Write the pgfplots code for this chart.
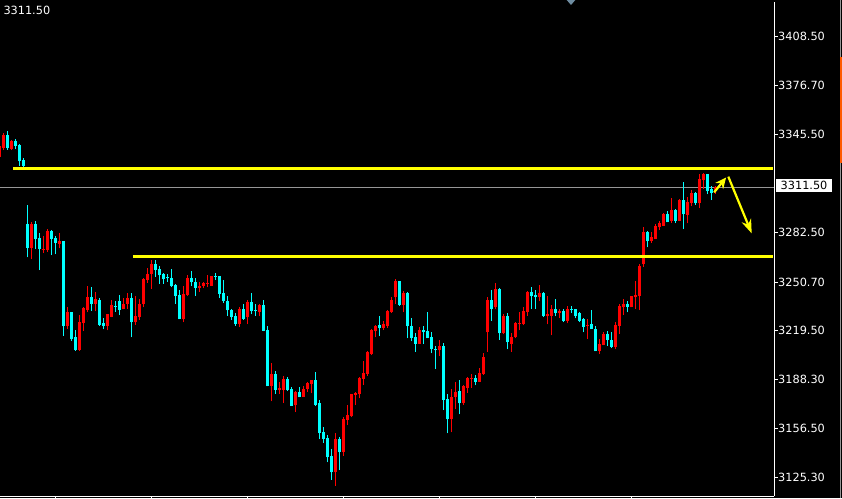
\documentclass[border=0pt]{standalone}
\usepackage{fontspec}
\setmainfont{DejaVu Sans}
\usepackage{pgfplots}
\usepackage{pgfplotstable}
\pgfplotsset{compat=1.18}
\usetikzlibrary{arrows.meta}
\definecolor{upc}{RGB}{255,0,0}
\definecolor{dnc}{RGB}{0,255,255}
\definecolor{lvl}{RGB}{255,255,0}
\definecolor{bid}{RGB}{150,150,150}
\definecolor{shiftc}{RGB}{110,140,160}

% bullish candles (red): index, open, high, low, close
\pgfplotstableread{
x o h l c
-1 3330.6 3338.8 3329.3 3337.7
0 3336.6 3346.0 3335.3 3344.9
2 3336.0 3342.0 3335.3 3340.9
7 3272.4 3288.9 3265.4 3287.8
10 3271.8 3280.0 3269.2 3272.2
11 3271.4 3284.6 3270.0 3283.2
14 3275.1 3281.9 3272.3 3277.2
16 3222.2 3234.4 3220.5 3231.2
19 3207.2 3229.5 3206.5 3224.8
20 3224.1 3234.8 3219.4 3233.9
21 3232.9 3248.4 3231.2 3240.8
23 3236.9 3244.0 3231.8 3239.5
26 3222.6 3230.1 3219.6 3230.1
27 3228.4 3238.9 3228.0 3235.9
30 3233.1 3240.2 3233.1 3236.9
31 3236.5 3243.4 3233.3 3240.2
33 3224.8 3241.5 3223.1 3228.6
34 3228.0 3239.7 3226.5 3236.9
35 3236.5 3253.4 3234.4 3252.4
36 3251.9 3259.9 3250.1 3256.1
37 3255.7 3265.1 3246.5 3262.1
45 3226.8 3248.0 3224.8 3242.7
46 3242.3 3255.3 3241.6 3253.2
49 3246.7 3250.4 3244.5 3248.4
50 3248.0 3250.9 3246.6 3250.0
51 3249.4 3255.0 3247.3 3250.0
52 3248.4 3254.3 3248.4 3254.3
59 3223.5 3234.4 3221.7 3233.7
61 3228.0 3238.9 3223.7 3237.6
64 3231.2 3236.5 3228.6 3235.7
67 3184.1 3198.6 3174.1 3191.4
69 3181.3 3186.3 3178.7 3182.6
70 3181.3 3190.7 3173.0 3188.5
73 3171.5 3180.9 3167.2 3180.0
75 3177.0 3183.7 3177.0 3182.1
76 3182.0 3186.8 3180.0 3185.9
77 3185.3 3187.9 3179.3 3187.9
83 3128.5 3153.5 3120.0 3149.9
85 3141.3 3163.8 3139.2 3162.7
86 3162.1 3171.7 3158.9 3165.3
87 3164.4 3178.7 3163.8 3178.7
88 3178.1 3180.3 3171.7 3179.4
89 3178.7 3190.0 3176.1 3189.2
90 3188.5 3199.9 3184.5 3192.2
91 3191.6 3206.6 3190.3 3205.5
92 3204.8 3220.5 3203.8 3219.8
93 3219.1 3223.1 3215.1 3222.2
95 3221.1 3225.9 3219.8 3223.7
96 3222.6 3232.6 3221.4 3231.8
97 3231.2 3240.8 3230.7 3239.3
98 3240.8 3252.4 3236.5 3251.1
100 3236.1 3244.7 3231.2 3243.4
104 3210.9 3222.0 3210.9 3219.6
109 3206.8 3213.2 3203.1 3209.4
112 3162.5 3182.2 3154.2 3177.0
113 3177.0 3186.4 3168.9 3180.0
115 3172.8 3184.3 3172.1 3183.7
116 3183.0 3190.0 3179.8 3189.3
117 3188.9 3191.9 3183.0 3189.3
119 3186.8 3195.4 3186.8 3192.2
120 3191.6 3204.9 3191.0 3202.9
121 3218.4 3240.8 3206.0 3238.9
123 3234.4 3249.8 3233.1 3245.9
125 3217.7 3229.9 3217.1 3228.6
127 3210.9 3217.8 3206.0 3215.2
128 3215.1 3224.8 3214.5 3224.1
129 3223.5 3231.2 3219.6 3224.1
130 3223.5 3234.4 3222.9 3231.8
131 3231.2 3244.7 3229.2 3244.0
134 3240.8 3248.5 3238.2 3243.4
136 3228.6 3241.5 3223.5 3229.9
137 3229.2 3235.7 3216.4 3233.7
139 3230.6 3233.7 3227.3 3231.8
141 3225.4 3235.0 3224.1 3233.1
146 3222.6 3226.8 3214.1 3223.0
149 3206.2 3214.1 3204.4 3210.9
150 3210.2 3218.4 3210.2 3217.3
153 3209.2 3225.2 3207.6 3223.1
154 3222.6 3236.5 3217.2 3235.5
155 3234.5 3239.7 3229.6 3236.5
157 3234.5 3241.9 3234.4 3241.5
158 3240.8 3251.1 3233.3 3242.6
159 3241.9 3262.2 3232.6 3261.1
160 3262.2 3285.7 3260.5 3282.5
162 3276.7 3282.5 3275.6 3279.3
163 3278.2 3287.7 3278.2 3286.4
164 3285.7 3289.6 3284.0 3288.3
165 3286.9 3294.7 3286.9 3294.1
167 3290.1 3304.3 3288.5 3296.6
169 3290.1 3303.7 3289.6 3303.2
171 3293.7 3305.0 3288.3 3301.8
172 3301.1 3309.5 3299.2 3307.5
174 3301.1 3319.7 3297.9 3316.5
175 3315.9 3320.4 3310.1 3319.7
178 3309.0 3312.6 3307.3 3311.5
}\upT

% bearish candles (cyan): index, open, high, low, close
\pgfplotstableread{
x o h l c
1 3344.9 3347.3 3335.6 3336.4
3 3340.9 3342.7 3336.0 3338.2
4 3338.8 3339.5 3325.3 3328.1
5 3328.7 3330.0 3324.4 3325.1
6 3287.8 3299.8 3266.5 3272.4
8 3287.8 3289.6 3271.8 3278.2
9 3278.7 3281.9 3258.3 3271.8
12 3283.2 3284.2 3267.9 3278.2
13 3278.7 3280.0 3268.5 3275.6
15 3277.0 3277.0 3216.2 3222.2
17 3231.2 3231.2 3212.8 3213.9
18 3215.1 3219.6 3206.5 3207.2
22 3240.8 3247.7 3232.3 3236.9
24 3239.1 3240.2 3222.6 3223.3
25 3224.3 3227.3 3220.3 3222.2
28 3235.2 3238.2 3231.6 3234.8
29 3238.2 3242.1 3229.5 3232.9
32 3240.2 3243.4 3215.1 3224.8
38 3262.1 3264.7 3254.1 3258.3
39 3259.3 3261.1 3249.5 3255.0
40 3255.7 3256.8 3249.6 3252.4
41 3254.1 3256.1 3250.9 3253.0
42 3253.2 3258.9 3247.3 3248.0
43 3249.0 3249.5 3236.9 3241.6
44 3242.3 3245.8 3226.8 3226.8
47 3253.0 3257.5 3248.0 3250.4
48 3250.4 3253.0 3241.9 3246.7
53 3254.5 3256.8 3252.2 3254.1
54 3254.3 3254.3 3240.4 3243.2
55 3243.7 3251.7 3237.1 3238.4
56 3238.2 3241.5 3229.1 3232.5
57 3232.5 3233.7 3226.5 3228.0
58 3228.6 3230.6 3222.6 3223.5
60 3233.7 3236.9 3226.5 3227.0
62 3237.6 3243.4 3229.9 3232.0
63 3232.5 3236.3 3229.1 3231.8
65 3235.7 3238.9 3219.0 3219.4
66 3220.1 3222.2 3183.7 3183.7
68 3191.4 3193.9 3178.7 3181.3
71 3188.5 3190.0 3180.7 3181.3
72 3182.0 3183.3 3171.0 3171.0
74 3180.0 3183.3 3176.6 3176.6
78 3187.9 3192.8 3171.0 3172.1
79 3172.8 3175.2 3149.9 3153.7
80 3154.2 3157.4 3147.7 3149.9
81 3150.3 3152.5 3134.9 3138.1
82 3138.8 3143.5 3123.8 3128.5
84 3149.9 3151.4 3130.0 3141.3
94 3222.9 3229.2 3215.9 3220.9
99 3251.1 3251.1 3235.4 3236.1
101 3243.4 3244.4 3214.5 3222.2
102 3222.2 3227.3 3212.6 3214.5
103 3215.2 3217.7 3206.0 3210.9
105 3219.6 3222.2 3210.9 3218.4
106 3219.0 3231.2 3214.5 3214.5
107 3215.1 3218.4 3204.9 3207.4
108 3207.4 3209.8 3195.2 3206.8
110 3209.4 3211.3 3168.5 3175.2
111 3175.8 3179.1 3153.5 3162.5
114 3180.6 3187.7 3165.7 3172.8
118 3189.3 3191.2 3184.3 3186.8
122 3238.9 3245.3 3226.0 3233.7
124 3245.9 3246.6 3213.8 3217.7
126 3228.6 3230.6 3207.4 3211.9
132 3244.0 3247.2 3233.7 3241.5
133 3242.1 3245.3 3233.7 3240.8
135 3243.4 3244.0 3228.0 3228.6
138 3233.7 3239.5 3228.6 3230.6
140 3231.8 3233.1 3224.8 3225.4
142 3233.1 3235.2 3230.8 3232.5
143 3233.1 3233.7 3227.3 3229.2
144 3230.6 3231.2 3224.8 3226.0
145 3226.8 3227.5 3218.4 3221.7
147 3223.5 3232.6 3220.5 3220.5
148 3220.7 3222.2 3206.2 3206.2
151 3217.3 3219.4 3209.8 3213.5
152 3213.5 3218.8 3208.3 3209.2
156 3236.5 3238.2 3231.2 3234.8
161 3282.5 3283.6 3272.9 3276.7
166 3294.1 3296.0 3288.9 3288.9
168 3296.6 3297.5 3288.5 3290.1
170 3303.2 3314.6 3284.6 3294.1
173 3307.5 3308.6 3300.0 3301.1
176 3319.7 3319.7 3307.1 3308.8
177 3310.1 3312.0 3303.2 3307.5
}\downT

\begin{document}
\begin{tikzpicture}[x=1pt,y=1pt]
\fill[black] (0,0) rectangle (842,498);
\path[use as bounding box] (0,0) rectangle (842,498);
\begin{axis}[
  at={(0,1)}, anchor=south west,
  scale only axis, width=774pt, height=494pt,
  xmin=-0.825, xmax=192.675, ymin=3113.1, ymax=3430.1,
  axis x line*=bottom, axis y line*=right,
  axis line style={white, line width=1pt},
  tick style={white, line width=1pt},
  tick align=outside, major tick length=4pt,
  xtick={13,37,61,85,109,133,157}, xticklabels={},
  ytick={3125.3,3156.5,3188.3,3219.5,3250.7,3282.5,3345.5,3376.7,3408.5},
  yticklabel style={text=white, font=\fontsize{11.3}{13}\selectfont, anchor=west, inner sep=0pt,
    /pgf/number format/fixed, /pgf/number format/fixed zerofill,
    /pgf/number format/precision=2, /pgf/number format/1000 sep={},
    /pgf/number format/assume math mode=true},
  clip=true,
]
% bid line
\addplot[bid, line width=1pt, forget plot] coordinates {(-0.825,3311.5) (192.675,3311.5)};
% wicks
\addplot[forget plot, draw=none, mark=none, error bars/.cd, y dir=plus, y explicit, error mark=none,
  error bar style={draw=upc, solid, line width=1pt}]
  table[x=x, y=l, y error plus expr=\thisrow{h}-\thisrow{l}] {\upT};
\addplot[forget plot, draw=none, mark=none, error bars/.cd, y dir=plus, y explicit, error mark=none,
  error bar style={draw=dnc, solid, line width=1pt}]
  table[x=x, y=l, y error plus expr=\thisrow{h}-\thisrow{l}] {\downT};
% bodies
\addplot[forget plot, draw=none, mark=none, error bars/.cd, y dir=plus, y explicit, error mark=none,
  error bar style={draw=upc, solid, line width=3.2pt}]
  table[x=x, y=o, y error plus expr=\thisrow{c}-\thisrow{o}] {\upT};
\addplot[forget plot, draw=none, mark=none, error bars/.cd, y dir=plus, y explicit, error mark=none,
  error bar style={draw=dnc, solid, line width=3.2pt}]
  table[x=x, y=c, y error plus expr=\thisrow{o}-\thisrow{c}] {\downT};
% horizontal levels
\addplot[lvl, line width=3.5pt, forget plot] coordinates {(2.5,3323.4) (192.4,3323.4)};
\addplot[lvl, line width=3.5pt, forget plot] coordinates {(32.4,3267.2) (192.4,3267.2)};
% arrows
\addplot[lvl, line width=2.2pt, forget plot, -{Stealth[length=11pt, width=10pt]}] coordinates {(177.7,3308.2) (180.7,3317.8)};
\addplot[lvl, line width=2.2pt, forget plot, -{Stealth[length=14pt, width=10pt]}] coordinates {(181.25,3318.3) (187.1,3281.9)};
\end{axis}
% current price box
\fill[white] (776,306.3) rectangle (832,318.7);
\node[anchor=base west, inner sep=0pt, font=\fontsize{11.3}{13}\selectfont, text=black] at (780.5,308.7) {3311.50};
% top-left price
\node[anchor=base west, inner sep=0pt, font=\fontsize{11.3}{13}\selectfont, text=white] at (3.3,483) {3311.50};
% chart shift marker
\fill[shiftc] (566.7,498) -- (575.3,498) -- (571,493) -- cycle;
% window edge
\draw[bid, line width=1pt] (840.5,0) -- (840.5,498);
\fill[orange!70!red] (840,335) rectangle (842,441);
\end{tikzpicture}
\end{document}
